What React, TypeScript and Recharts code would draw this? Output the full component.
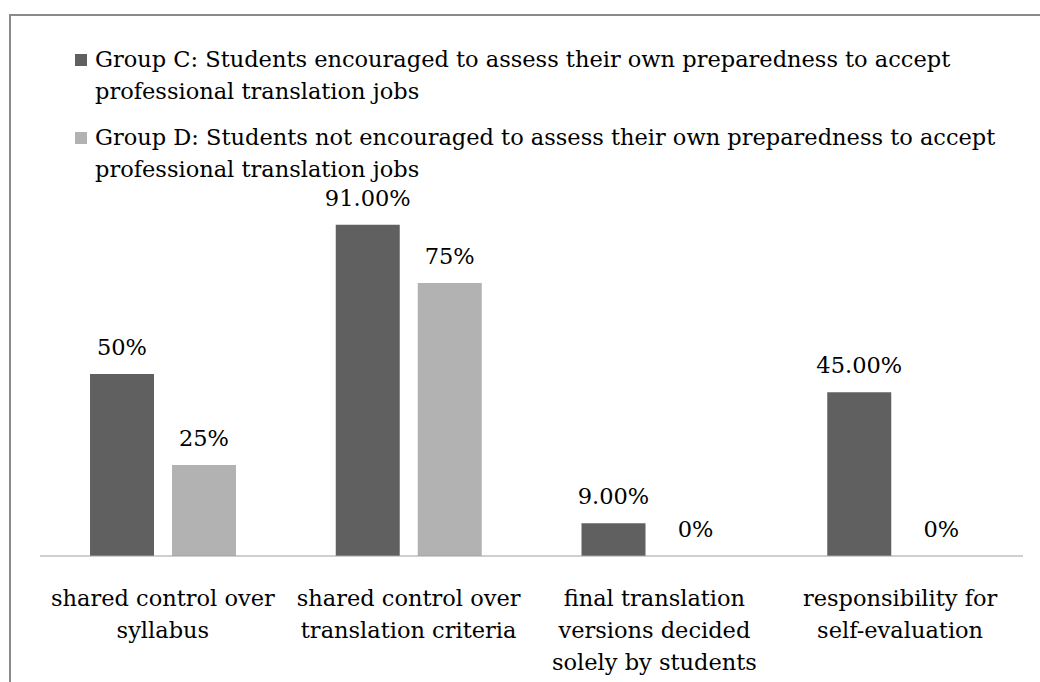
import React from 'react';
import { BarChart, Bar, XAxis, YAxis, LabelList } from 'recharts';

const categories = [
  ['shared control over', 'syllabus'],
  ['shared control over', 'translation criteria'],
  ['final translation', 'versions decided', 'solely by students'],
  ['responsibility for', 'self-evaluation'],
];
const groupC = [50, 91, 9, 45];
const groupD = [25, 75, 0, 0];
const labelsC = ['50%', '91.00%', '9.00%', '45.00%'];
const labelsD = ['25%', '75%', '0%', '0%'];
const seriesNames = [
  'Group C: Students encouraged to assess their own preparedness to accept professional translation jobs',
  'Group D: Students not encouraged to assess their own preparedness to accept professional translation jobs',
];
const colors = ['#606060', '#b2b2b2'];

const FONT = '"DejaVu Serif", serif';
const FS = 22.5;

const data = categories.map((lines, i) => ({
  name: lines.join(' '),
  c: groupC[i],
  d: groupD[i],
  cLabel: labelsC[i],
  dLabel: labelsD[i],
}));

function CategoryTick(props: any) {
  const { x, y, payload, index } = props;
  const lines = categories[index] ?? [payload.value];
  return (
    <text x={x} y={y + 42} textAnchor="middle" fill="#000" fontSize={FS} fontFamily={FONT}>
      {lines.map((l, i) => (
        <tspan key={i} x={x} dy={i === 0 ? 0 : 32}>
          {l}
        </tspan>
      ))}
    </text>
  );
}

export default function App() {
  return (
    <div style={{ position: 'absolute', left: 0, top: 0, width: 1040, height: 682, background: '#fff', overflow: 'hidden' }}>
      {/* frame */}
      <div style={{ position: 'absolute', left: 9, top: 14, width: 1040, height: 700, borderTop: '2px solid #8a8a8a', borderLeft: '2px solid #8a8a8a' }} />
      {/* legend */}
      <div style={{ position: 'absolute', left: 75, top: 43, width: 962, fontFamily: FONT, fontSize: FS, lineHeight: '32px', color: '#000' }}>
        {seriesNames.map((n, i) => (
          <div key={i} style={{ display: 'flex', alignItems: 'flex-start', marginBottom: i === 0 ? 14 : 0 }}>
            <span style={{ flex: 'none', width: 12, height: 12, background: colors[i], marginTop: 11, marginRight: 8 }} />
            <span>{n}</span>
          </div>
        ))}
      </div>
      <div style={{ position: 'absolute', left: 0, top: 0 }}>
        <BarChart width={1040} height={682} data={data} margin={{ top: 192, right: 17, left: 40, bottom: 0 }} barGap={18} barSize={64}>
          <XAxis
            dataKey="name"
            interval={0}
            height={126}
            tickLine={false}
            axisLine={{ stroke: '#a0a0a0' }}
            tick={<CategoryTick />}
          />
          <YAxis hide domain={[0, 100]} />
          <Bar dataKey="c" name={seriesNames[0]} fill={colors[0]} isAnimationActive={false}>
            <LabelList dataKey="cLabel" position="top" offset={19} fill="#000" fontSize={FS} fontFamily={FONT} />
          </Bar>
          <Bar dataKey="d" name={seriesNames[1]} fill={colors[1]} minPointSize={0.01} isAnimationActive={false}>
            <LabelList dataKey="dLabel" position="top" offset={19} fill="#000" fontSize={FS} fontFamily={FONT} />
          </Bar>
        </BarChart>
      </div>
    </div>
  );
}
